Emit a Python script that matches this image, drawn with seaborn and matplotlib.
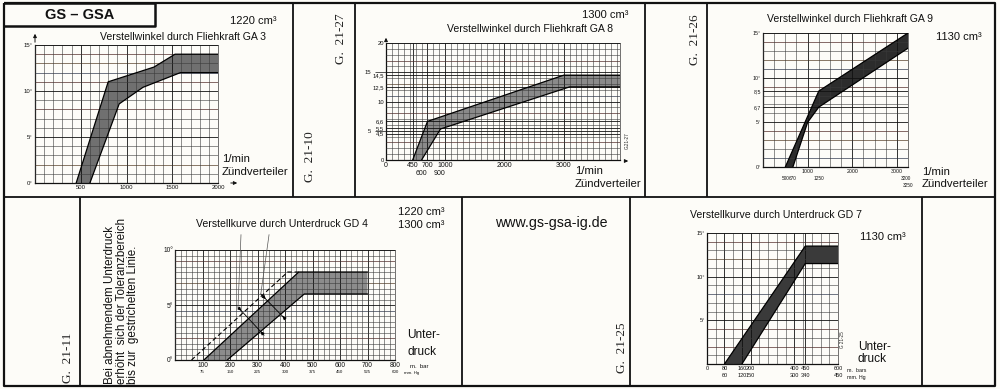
import numpy as np
import pandas as pd
import matplotlib
matplotlib.use("Agg")
import matplotlib.pyplot as plt
import seaborn as sns


# --- GA 3 (1220 cm3): Verstellwinkel durch Fliehkraft, rpm -> degrees ---
ga3_up_rpm = [450, 800, 1300, 1530, 2000]
ga3_up_deg = [0, 11.0, 12.6, 14.0, 14.0]
ga3_lo_rpm = [600, 920, 1180, 1590, 2000]
ga3_lo_deg = [0, 8.6, 10.4, 12.0, 12.0]
ga3_xticks = [500, 1000, 1500, 2000]
ga3_yticks = [0, 5, 10, 15]
ga3_ylabels = ["0°", "5°", "10°", "15°"]

# --- GA 8 (1300 cm3) ---
ga8_up_rpm = [450, 700, 3000, 3950]
ga8_up_deg = [0, 6.6, 14.5, 14.5]
ga8_lo_rpm = [600, 920, 3100, 3950]
ga8_lo_deg = [0, 5.3, 12.5, 12.5]
ga8_xticks = [0, 450, 700, 1000, 2000, 3000]
ga8_xticks_row2 = [600, 900]
ga8_yticks = [0, 4.5, 5, 5.5, 6.6, 10, 12.5, 14.5, 15, 20]
ga8_ylabels = ["0", "4,5", "5", "5,5", "6,6", "10", "12,5", "14,5", "15", "20"]

# --- GA 9 (1130 cm3) ---
ga9_up_rpm = [500, 1250, 3250]
ga9_up_deg = [0, 8.5, 15.0]
ga9_lo_rpm = [670, 1000, 1250, 3250]
ga9_lo_deg = [0, 5.0, 6.7, 13.3]
ga9_xticks = [1000, 2000, 3000]
ga9_xticks_row2 = [500, 670, 1250, 3200]
ga9_xticks_row3 = [3250]
ga9_yticks = [0, 5, 6.7, 8.5, 10, 15]
ga9_ylabels = ["0°", "5°", "6,7", "8,5", "10°", "15°"]

# --- GD 4 (1220 / 1300 cm3): Verstellkurve durch Unterdruck, mbar -> degrees ---
gd4_up_mbar = [105, 450, 700]
gd4_up_deg = [0, 8.0, 8.0]
gd4_lo_mbar = [190, 470, 700]
gd4_lo_deg = [0, 6.0, 6.0]
gd4_dash_mbar = [60, 410, 450]
gd4_dash_deg = [0, 8.0, 8.0]
gd4_xticks = [100, 200, 300, 400, 500, 600, 700, 800]
gd4_mmhg = [75, 150, 225, 300, 375, 450, 525, 600]
gd4_yticks = [0, 5, 10]
gd4_ylabels = ["0°", "5°", "10°"]
# tolerance width markers: outer start, edge hit (mbar, deg)
gd4_mark_from = [(229, 4.8), (324, 2.25), (312, 6.0), (400, 3.75)]
gd4_mark_to = [(248, 4.29), (311, 2.6), (337, 5.37), (384, 4.16)]
gd4_leader_top = [(240, 11.4), (342, 11.4)]
gd4_leader_end = [(229, 4.8), (312, 6.0)]

# --- GD 7 (1130 cm3) ---
gd7_up_mbar = [80, 450, 600]
gd7_up_deg = [0, 13.5, 13.5]
gd7_lo_mbar = [160, 450, 600]
gd7_lo_deg = [0, 11.5, 11.5]
gd7_xticks = [0, 80, 160, 200, 400, 450, 600]
gd7_mmhg = [60, 120, 150, 300, 340, 450]
gd7_yticks = [5, 10, 15]
gd7_ylabels = ["5°", "10°", "15°"]

PAPER = "#fdfcf8"
GRID = "#3a3a3a"
INK = "#111111"
TINTS = ["#d8665f", "#e3a15e", "#7b95cf", "#d8665f"]

sns.set_theme(style="white")
plt.rcParams["font.family"] = ["Liberation Sans", "DejaVu Sans"]

W, H = 1000, 389
fig = plt.figure(figsize=(10, 3.89), dpi=100)
fig.patch.set_facecolor(PAPER)

# page overlay in pixel coordinates (frames and free text)
ax0 = fig.add_axes([0, 0, 1, 1])
ax0.set_xlim(0, W)
ax0.set_ylim(H, 0)
ax0.axis("off")


def frame_line(xs, ys, lw=1.3):
    ax0.plot(xs, ys, color=INK, lw=lw, solid_capstyle="butt")


frame_line([4, 995, 995, 4, 4], [3, 3, 386, 386, 3], lw=1.6)
frame_line([4, 155, 155, 4], [26, 26, 3, 3], lw=1.8)
frame_line([4, 995], [197, 197])
for xv in [293, 355, 645, 707]:
    frame_line([xv, xv], [3, 197])
for xv in [80, 462, 630, 922]:
    frame_line([xv, xv], [197, 386])


def txt(x, y, s, size=8, ha="left", va="center", **kw):
    ax0.text(x, y, s, fontsize=size, ha=ha, va=va, color=INK, **kw)


def code(x, y, s):
    ax0.text(x, y, s, fontsize=9.5, rotation=90, ha="center", va="center",
             color="#222", family=["Liberation Serif", "DejaVu Serif"])


txt(80, 15, "GS – GSA", size=10.5, ha="center", weight="bold")
txt(230, 21, "1220 cm³")
txt(183, 37, "Verstellwinkel durch Fliehkraft GA 3", size=7.6, ha="center")
txt(222, 159, "1/min", size=8.2)
txt(222, 172, "Zündverteiler", size=8.2)
code(310, 157, "G.  21-10")
code(341, 39, "G.  21-27")
txt(582, 15, "1300 cm³")
txt(530, 29, "Verstellwinkel durch Fliehkraft GA 8", size=7.6, ha="center")
txt(575, 171, "1/min", size=8.2)
txt(575, 184, "Zündverteiler", size=8.2)
code(695, 40, "G.  21-26")
txt(850, 19, "Verstellwinkel durch Fliehkraft GA 9", size=7.6, ha="center")
txt(936, 37, "1130 cm³")
txt(922, 172, "1/min", size=8.2)
txt(922, 184, "Zündverteiler", size=8.2)

code(68, 358, "G.  21-11")
note = ["Bei abnehmendem Unterdruck", "erhöht  sich der Toleranzbereich",
        "bis zur  gestrichelten Linie."]
for xv, line in zip([110, 122, 133], note):
    txt(xv, 384, line, size=8.4, ha="center", va="bottom", rotation=90)
txt(282, 224, "Verstellkurve durch Unterdruck GD 4", size=7.6, ha="center")
txt(398, 212, "1220 cm³")
txt(398, 225, "1300 cm³")
txt(407, 335, "Unter-", size=8.6)
txt(407, 352, "druck", size=8.6)
txt(410, 366, "m.  bar", size=4.3)
txt(404, 373, "mm. Hg", size=3.2)
txt(495, 223, "www.gs-gsa-ig.de", size=10.2)
code(622, 348, "G.  21-25")
txt(776, 215, "Verstellkurve durch Unterdruck GD 7", size=7.6, ha="center")
txt(860, 237, "1130 cm³")
txt(858, 347, "Unter-", size=8.6)
txt(858, 359, "druck", size=8.6)
txt(847, 370, "m.  bars", size=3.8)
txt(847, 377, "mm. Hg", size=3.8)
ax0.text(627, 141, "G.21-27", fontsize=3.3, rotation=90, ha="center", va="center")
ax0.text(843, 340, "G 21-25", fontsize=3.3, rotation=90, ha="center", va="center")

# axis arrows
arrow = dict(arrowstyle="-|>", lw=0.7, color=INK, mutation_scale=5)
ax0.annotate("", xy=(35, 31), xytext=(35, 45), arrowprops=arrow)
ax0.annotate("", xy=(240, 183), xytext=(228, 183), arrowprops=arrow)
ax0.annotate("", xy=(386, 35), xytext=(386, 43), arrowprops=arrow)
ax0.annotate("", xy=(631, 161), xytext=(622, 161), arrowprops=arrow)


def chart(box, xmax, ymax, xstep, ystep, labelsize, tint_rows=()):
    x0, y0, x1, y1 = box
    ax = fig.add_axes([x0 / W, 1 - y1 / H, (x1 - x0) / W, (y1 - y0) / H])
    ax.set_facecolor("none")
    ax.set_xlim(0, xmax)
    ax.set_ylim(0, ymax)
    ax.set_xticks(np.arange(0, xmax + 1e-6, xstep), minor=True)
    ax.set_yticks(np.arange(0, ymax + 1e-6, ystep), minor=True)
    ax.grid(which="minor", color=GRID, lw=0.4)
    ax.grid(which="major", color="#111", lw=0.6)
    ax.set_axisbelow(False)
    ax.tick_params(which="both", length=0, pad=1.5, labelsize=labelsize, colors=INK)
    for i, row in enumerate(tint_rows):
        ax.axhline(row, color=TINTS[i % len(TINTS)], lw=0.7, alpha=0.55, zorder=0.9)
    for side in ["top", "right"]:
        ax.spines[side].set_color(GRID)
        ax.spines[side].set_linewidth(0.5)
    for side in ["left", "bottom"]:
        ax.spines[side].set_color(INK)
        ax.spines[side].set_linewidth(0.9)
    return ax


def band(ax, ux, uy, lx, ly, fill):
    ax.fill(list(ux) + list(lx)[::-1], list(uy) + list(ly)[::-1],
            color=fill, lw=0, zorder=1)
    sns.lineplot(x=ux, y=uy, ax=ax, color="black", lw=0.9, zorder=3)
    sns.lineplot(x=lx, y=ly, ax=ax, color="black", lw=0.9, zorder=3)


def extra_row(ax, ticks, size, pad, functions=None):
    sec = ax.secondary_xaxis("bottom", functions=functions)
    sec.set_xticks(ticks, [str(t) for t in ticks])
    sec.tick_params(length=0, pad=pad, labelsize=size, colors=INK)
    sec.spines["bottom"].set_visible(False)
    return sec


to_mmhg = (lambda m: m * 0.75, lambda h: h / 0.75)

# GA 3
ax = chart((35, 45, 218, 183), 2000, 15, 100, 1, 4.3, tint_rows=[14, 13, 12, 11, 8, 2])
band(ax, ga3_up_rpm, ga3_up_deg, ga3_lo_rpm, ga3_lo_deg, "#707070")
ax.set_xticks(ga3_xticks, [str(t) for t in ga3_xticks])
ax.set_yticks(ga3_yticks, ga3_ylabels)

# GA 8
ax = chart((386, 43, 620, 160), 3950, 20, 100, 1, 5, tint_rows=[17, 13, 11, 8, 3])
band(ax, ga8_up_rpm, ga8_up_deg, ga8_lo_rpm, ga8_lo_deg, "#8a8a8a")
ax.set_xticks(ga8_xticks, [str(t) for t in ga8_xticks])
ax.set_yticks(ga8_yticks, ga8_ylabels)
ax.tick_params(axis="y", labelsize=4.2)
for tick, val in zip(ax.yaxis.get_major_ticks(), ga8_yticks):
    if val in (5, 15):
        tick.set_pad(11)
        tick.tick1line.set_visible(True)
        tick.tick1line.set_markersize(8)
        tick.tick1line.set_markeredgewidth(0.5)
        tick.tick1line.set_color(INK)
extra_row(ax, ga8_xticks_row2, 5, 7.5)

# GA 9
ax = chart((763, 33, 908, 167), 3250, 15, 250, 1, 3.8, tint_rows=[14, 12, 11, 9, 4, 3, 1])
band(ax, ga9_up_rpm, ga9_up_deg, ga9_lo_rpm, ga9_lo_deg, "#2c2c2c")
ax.set_xticks(ga9_xticks, [str(t) for t in ga9_xticks])
ax.set_yticks(ga9_yticks, ga9_ylabels)
extra_row(ax, ga9_xticks_row2, 3.4, 6.5)
extra_row(ax, ga9_xticks_row3, 3.4, 11.5)

# GD 4
ax = chart((175, 250, 395, 360), 800, 10, 20, 0.5, 4.8, tint_rows=[9, 7, 4.5, 2])
band(ax, gd4_up_mbar, gd4_up_deg, gd4_lo_mbar, gd4_lo_deg, "#8c8c8c")
sns.lineplot(x=gd4_dash_mbar, y=gd4_dash_deg, ax=ax, color="black", lw=0.8,
             linestyle=(0, (4, 2.5)), zorder=3)
ax.set_xticks(gd4_xticks, [str(t) for t in gd4_xticks])
ax.set_yticks(gd4_yticks, gd4_ylabels)
extra_row(ax, gd4_mmhg, 3.2, 7.5, functions=to_mmhg)
for (xa, ya), (xb, yb) in zip(gd4_mark_from[0::2], gd4_mark_from[1::2]):
    ax.plot([xa, xb], [ya, yb], color="black", lw=0.6, zorder=4)
for start, end in zip(gd4_mark_from, gd4_mark_to):
    ax.annotate("", xy=end, xytext=start,
                arrowprops=dict(arrowstyle="-|>", lw=0.6, color="black", mutation_scale=5))
for top, end in zip(gd4_leader_top, gd4_leader_end):
    ax.plot([top[0], end[0]], [top[1], end[1]], color="#555", lw=0.5, clip_on=False, zorder=4)

# GD 7
ax = chart((707, 233, 838, 364), 600, 15, 40, 1, 4, tint_rows=[14, 12, 8, 4, 2])
band(ax, gd7_up_mbar, gd7_up_deg, gd7_lo_mbar, gd7_lo_deg, "#3a3a3a")
ax.set_xticks(gd7_xticks, [str(t) for t in gd7_xticks])
ax.set_yticks(gd7_yticks, gd7_ylabels)
extra_row(ax, gd7_mmhg, 4, 6.5, functions=to_mmhg)

fig.savefig("out.png", dpi=100, facecolor=PAPER)
